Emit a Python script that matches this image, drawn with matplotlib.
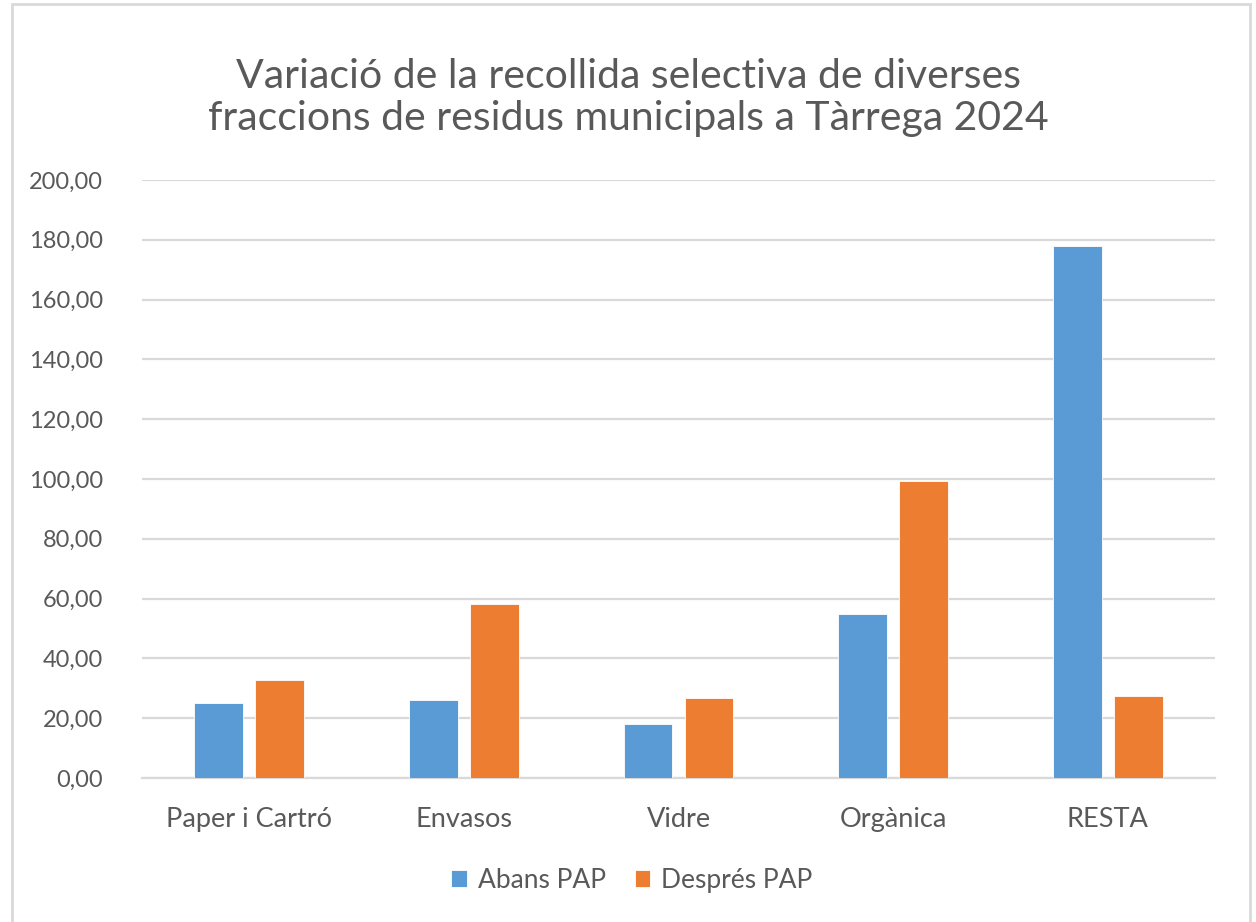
import matplotlib.pyplot as plt
from matplotlib.patches import Rectangle
import numpy as np

# Data
categories = ['Paper i Cartró', 'Envasos', 'Vidre', 'Orgànica', 'RESTA']
abans_pap = [25.0, 26.1, 18.1, 54.7, 178.0]
despres_pap = [32.8, 58.2, 26.7, 99.4, 27.5]
y_ticks = [0, 20, 40, 60, 80, 100, 120, 140, 160, 180, 200]

blue = '#5B9BD5'
orange = '#ED7D31'
text_gray = '#595959'
grid_gray = '#D9D9D9'

plt.rcParams['font.family'] = ['Lato', 'DejaVu Sans']

fig = plt.figure(figsize=(12.56, 9.22), dpi=100)
fig.patch.set_facecolor('white')

# Outer chart frame (light gray border)
frame = Rectangle((12 / 1256, -0.05), (1250 - 12) / 1256, 1.05 - 4 / 922,
                  transform=fig.transFigure, fill=False,
                  edgecolor='#D9D9D9', linewidth=2)
fig.patches.append(frame)

ax = fig.add_axes([142 / 1256, (922 - 778) / 922, (1215 - 142) / 1256, (778 - 180) / 922])

x = np.arange(len(categories))
bar_w = 0.228
offset = 0.142
ax.bar(x - offset, abans_pap, bar_w, color=blue, edgecolor='white', linewidth=0.6,
       label='Abans PAP', zorder=3)
ax.bar(x + offset, despres_pap, bar_w, color=orange, edgecolor='white', linewidth=0.6,
       label='Després PAP', zorder=3)

ax.set_xlim(-0.5, len(categories) - 0.5)
ax.set_ylim(0, 200)
ax.set_yticks(y_ticks)
ax.set_yticklabels([f'{v:.2f}'.replace('.', ',') for v in y_ticks])
ax.set_xticks(x)
ax.set_xticklabels(categories)

ax.yaxis.grid(True, color=grid_gray, linewidth=1.6, zorder=0)
ax.set_axisbelow(True)
for side in ['top', 'right', 'left']:
    ax.spines[side].set_visible(False)
ax.spines['bottom'].set_color(grid_gray)
ax.spines['bottom'].set_linewidth(1.6)

ax.tick_params(axis='both', length=0, colors=text_gray)
ax.tick_params(axis='y', pad=28, labelsize=17)
ax.tick_params(axis='x', pad=21, labelsize=19.5)

fig.text(0.5, 0.894, 'Variació de la recollida selectiva de diverses\nfraccions de residus municipals a Tàrrega 2024',
         ha='center', va='center', fontsize=29.5, color=text_gray, linespacing=1.15)

leg = fig.legend(loc='center', bbox_to_anchor=(0.503, 0.045), ncol=2, frameon=False,
                 fontsize=19, handlelength=0.6, handleheight=0.6, handletextpad=0.4,
                 columnspacing=1.1)
for t in leg.get_texts():
    t.set_color(text_gray)

fig.savefig('out.png', dpi=100)
